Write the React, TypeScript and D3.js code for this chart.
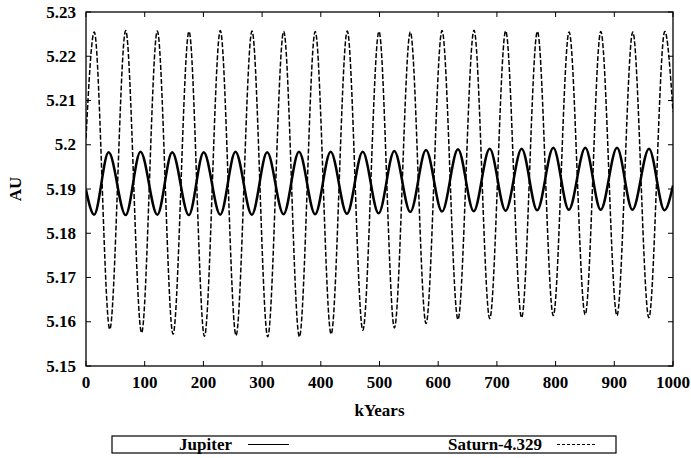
import React from "react";
import * as d3 from "d3";

// ---- data ----
const xTicks = [0, 100, 200, 300, 400, 500, 600, 700, 800, 900, 1000];
const xTickLabels = ["0", "100", "200", "300", "400", "500", "600", "700", "800", "900", "1000"];
const yTicks = [5.15, 5.16, 5.17, 5.18, 5.19, 5.2, 5.21, 5.22, 5.23];
const yTickLabels = ["5.15", "5.16", "5.17", "5.18", "5.19", "5.2", "5.21", "5.22", "5.23"];

// Saturn-4.329 extrema (kYears, AU)
const saturnPeakKyr = [14.1, 67.6, 121.5, 175.5, 228.8, 282.8, 336.8, 390.5, 445.1, 499.1, 552.5, 606.5, 661, 715, 769, 823, 877, 931.5, 986];
const saturnPeakAU = [5.2255, 5.2258, 5.2257, 5.2256, 5.2258, 5.2257, 5.2256, 5.2256, 5.2257, 5.2256, 5.2255, 5.2258, 5.2259, 5.2257, 5.2256, 5.2255, 5.2256, 5.2255, 5.2256];
const saturnTroughKyr = [40.5, 94.7, 148.3, 201.8, 255.6, 309.6, 363.5, 417.6, 471.6, 525.4, 579.3, 633.7, 687.8, 742.1, 796.1, 850.4, 904.5, 958.9];
const saturnTroughAU = [5.1583, 5.1575, 5.1572, 5.1567, 5.1569, 5.1566, 5.1566, 5.1572, 5.1581, 5.1586, 5.1596, 5.1605, 5.1607, 5.1609, 5.1614, 5.1616, 5.1614, 5.1609];
const saturnEndKyr = [0, 1000];
const saturnEndAU = [5.2015, 5.2075];

// Jupiter extrema (kYears, AU)
const jupiterPeakKyr = [38.5, 92.8, 146.8, 200.5, 254.6, 308.6, 362.8, 416.8, 471.4, 525.2, 579.2, 633.7, 687.7, 742.2, 796.1, 850.6, 904.6, 959.1];
const jupiterPeakAU = [5.1983, 5.1984, 5.1983, 5.1983, 5.1984, 5.1983, 5.1984, 5.1984, 5.1984, 5.1986, 5.1988, 5.199, 5.1991, 5.1991, 5.1993, 5.1993, 5.1993, 5.1991];
const jupiterTroughKyr = [13.8, 67.5, 121.5, 175.2, 228.7, 282.5, 336.5, 390.3, 444.5, 498.5, 552.5, 606.5, 660.5, 714.8, 768.6, 822.5, 876.8, 930.9, 985.5];
const jupiterTroughAU = [5.1842, 5.1841, 5.1842, 5.1841, 5.1842, 5.1842, 5.1843, 5.1843, 5.1844, 5.1845, 5.1848, 5.1849, 5.185, 5.1851, 5.1852, 5.1853, 5.1853, 5.1853, 5.1852];
const jupiterEndKyr = [0, 1000];
const jupiterEndAU = [5.1898, 5.1908];

type Pt = [number, number];
function merge(...pairs: [number[], number[]][]): Pt[] {
  const pts: Pt[] = [];
  pairs.forEach(([xs, ys]) => xs.forEach((x, i) => pts.push([x, ys[i]])));
  return pts.sort((a, b) => a[0] - b[0]);
}

const saturn = merge([saturnPeakKyr, saturnPeakAU], [saturnTroughKyr, saturnTroughAU], [saturnEndKyr, saturnEndAU]);
const jupiter = merge([jupiterPeakKyr, jupiterPeakAU], [jupiterTroughKyr, jupiterTroughAU], [jupiterEndKyr, jupiterEndAU]);

const W = 691;
const H = 458;
const L = 86, R = 673, T = 12, B = 366;

function Label(props: { x?: number; y?: number; anchor: string; transform?: string; children: React.ReactNode }) {
  return (
    <text
      x={props.x}
      y={props.y}
      transform={props.transform}
      textAnchor={props.anchor}
      className="lbl"
      fontFamily="Liberation Serif"
      fontWeight="bold"
      fontSize="17px"
      fill="#000"
    >
      {props.children}
    </text>
  );
}

export default function App() {
  const x = d3.scaleLinear().domain([0, 1000]).range([L, R]);
  const y = d3.scaleLinear().domain([5.15, 5.23]).range([B, T]);
  const line = d3
    .line<Pt>()
    .x((d) => x(d[0]))
    .y((d) => y(d[1]))
    .curve(d3.curveMonotoneX);
  const tick = 5;

  return (
    <svg
      width={W}
      height={H}
      style={{ position: "absolute", left: 0, top: 0, background: "#fff", fontFamily: '"Liberation Serif"' }}
    >
      <style>{`.lbl { font-family: "Liberation Serif"; font-weight: 700; font-size: 17px; }`}</style>
      <rect x={0} y={0} width={W} height={H} fill="#fff" />
      <defs>
        <clipPath id="plot">
          <rect x={L} y={T} width={R - L} height={B - T} />
        </clipPath>
      </defs>

      {/* ticks */}
      {xTicks.map((t, i) => (
        <g key={"xt" + i}>
          <line x1={x(t)} x2={x(t)} y1={B} y2={B - tick} stroke="#000" strokeWidth={1} />
          <line x1={x(t)} x2={x(t)} y1={T} y2={T + tick} stroke="#000" strokeWidth={1} />
          <Label x={x(t)} y={388} anchor="middle">
            {xTickLabels[i]}
          </Label>
        </g>
      ))}
      {yTicks.map((t, i) => (
        <g key={"yt" + i}>
          <line x1={L} x2={L + tick} y1={y(t)} y2={y(t)} stroke="#000" strokeWidth={1} />
          <line x1={R} x2={R - tick} y1={y(t)} y2={y(t)} stroke="#000" strokeWidth={1} />
          <Label x={76} y={y(t) + 5.5} anchor="end">
            {yTickLabels[i]}
          </Label>
        </g>
      ))}

      {/* series */}
      <g clipPath="url(#plot)">
        <path d={line(jupiter) || ""} fill="none" stroke="#000" strokeWidth={2.5} strokeLinejoin="round" />
        <path d={line(saturn) || ""} fill="none" stroke="#000" strokeWidth={1.5} strokeDasharray="5,2" />
      </g>

      {/* frame */}
      <rect x={L} y={T} width={R - L} height={B - T} fill="none" stroke="#000" strokeWidth={1.3} />

      {/* axis titles */}
      <Label x={(L + R) / 2} y={416} anchor="middle">
        kYears
      </Label>
      <Label transform={`translate(21,${(T + B) / 2}) rotate(-90)`} anchor="middle">
        AU
      </Label>

      {/* legend */}
      <rect x={112} y={436} width={504} height={17} fill="none" stroke="#000" strokeWidth={1.2} />
      <Label x={232} y={450} anchor="end">
        Jupiter
      </Label>
      <line x1={248} x2={289} y1={444.5} y2={444.5} stroke="#000" strokeWidth={1.2} />
      <Label x={542} y={450} anchor="end">
        Saturn-4.329
      </Label>
      <line x1={557} x2={597} y1={444.5} y2={444.5} stroke="#000" strokeWidth={1} strokeDasharray="3,2" />
    </svg>
  );
}
